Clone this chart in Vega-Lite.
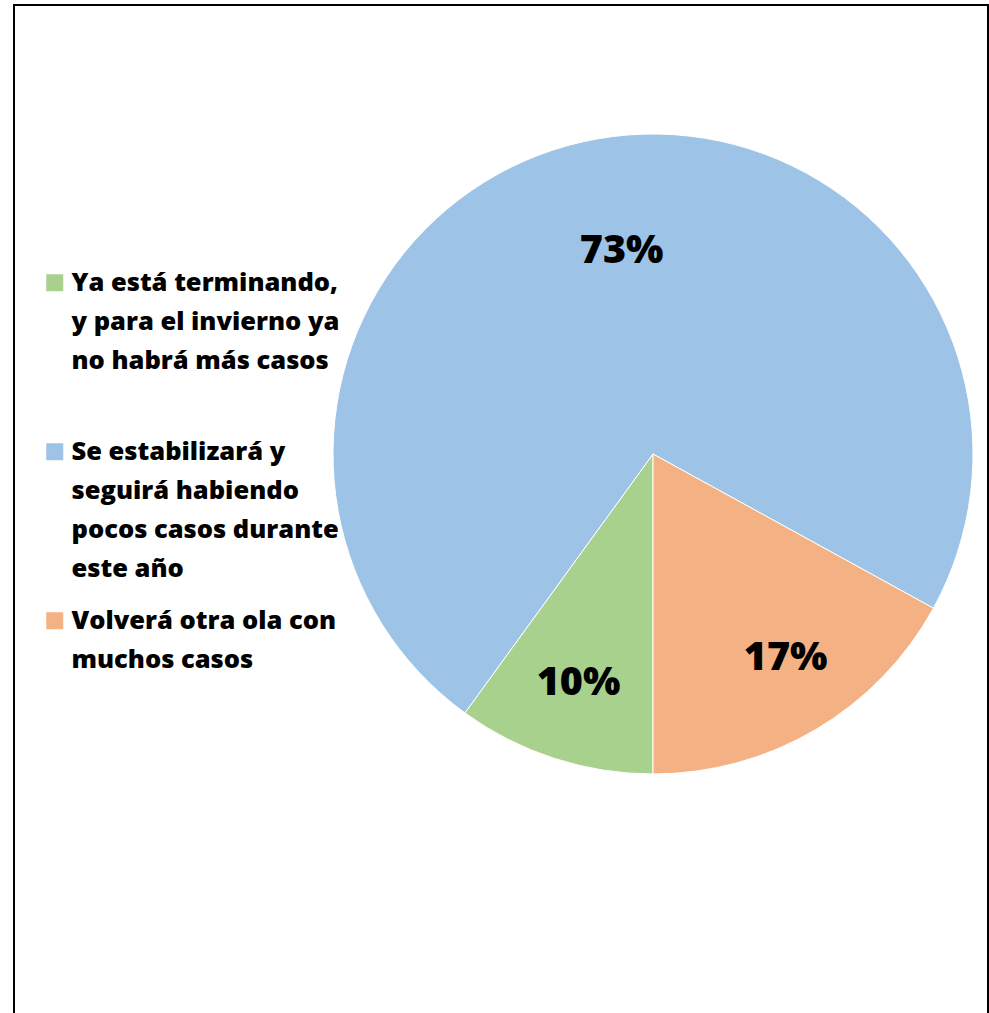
{
  "$schema": "https://vega.github.io/schema/vega-lite/v6.json",
  "width": 974,
  "height": 1013,
  "autosize": {"type": "none"},
  "padding": {"left": 14, "top": 5, "right": 1, "bottom": -5},
  "background": "white",
  "view": {"stroke": "black", "strokeWidth": 2},
  "config": {
    "view": {"stroke": "black", "strokeWidth": 2},
    "style": {"guide-label": {"lineHeight": 39}}
  },
  "data": {"values": [
    {"cat": "Ya está terminando, y para el invierno ya no habrá más casos", "v": 10, "ord": 1, "lab": "10%"},
    {"cat": "Se estabilizará y seguirá habiendo pocos casos durante este año", "v": 73, "ord": 2, "lab": "73%"},
    {"cat": "Volverá otra ola con muchos casos", "v": 17, "ord": 3, "lab": "17%"}
  ]},
  "encoding": {
    "theta": {"field": "v", "type": "quantitative", "stack": true, "scale": {"range": [3.14159265, 9.42477796]}},
    "order": {"field": "ord", "type": "quantitative"}
  },
  "layer": [
    {
      "mark": {"type": "arc", "x": 639, "y": 449, "outerRadius": 320, "stroke": "white", "strokeWidth": 1},
      "encoding": {
        "color": {
          "field": "cat", "type": "nominal",
          "scale": {
            "domain": ["Ya está terminando, y para el invierno ya no habrá más casos", "Se estabilizará y seguirá habiendo pocos casos durante este año", "Volverá otra ola con muchos casos"],
            "range": ["#A9D18E", "#9DC3E6", "#F4B183"]
          },
          "legend": {
            "orient": "none", "legendX": 28, "legendY": 265, "title": null,
            "symbolType": "square", "symbolSize": 289, "symbolStrokeWidth": 0,
            "labelFont": "Open Sans", "labelFontSize": 25.5, "labelFontWeight": 800, "labelColor": "black",
            "labelOffset": 4, "labelLimit": 0, "rowPadding": 25, "gridAlign": "all",
            "labelExpr": "test(/^Ya/, datum.label) ? ['Ya está terminando,', 'y para el invierno ya', 'no habrá más casos'] : test(/^Se/, datum.label) ? ['Se estabilizará y', 'seguirá habiendo', 'pocos casos durante', 'este año'] : ['Volverá otra ola con', 'muchos casos']",
            "encode": {"labels": {"update": {"lineHeight": {"value": 39}}}}
          }
        }
      }
    },
    {
      "mark": {"type": "text", "x": 639, "y": 449, "radius": 241, "font": "Open Sans", "fontSize": 39.5, "fontWeight": 800, "fill": "black"},
      "encoding": {"text": {"condition": {"test": "datum.ord == 1", "field": "lab"}, "value": ""}}
    },
    {
      "mark": {"type": "text", "x": 639, "y": 449, "radius": 241, "dx": 10, "dy": -3, "font": "Open Sans", "fontSize": 39.5, "fontWeight": 800, "fill": "black"},
      "encoding": {"text": {"condition": {"test": "datum.ord == 3", "field": "lab"}, "value": ""}}
    },
    {
      "mark": {"type": "text", "x": 639, "y": 449, "radius": 208, "dx": 14, "font": "Open Sans", "fontSize": 39.5, "fontWeight": 800, "fill": "black"},
      "encoding": {"text": {"condition": {"test": "datum.ord == 2", "field": "lab"}, "value": ""}}
    }
  ]
}
